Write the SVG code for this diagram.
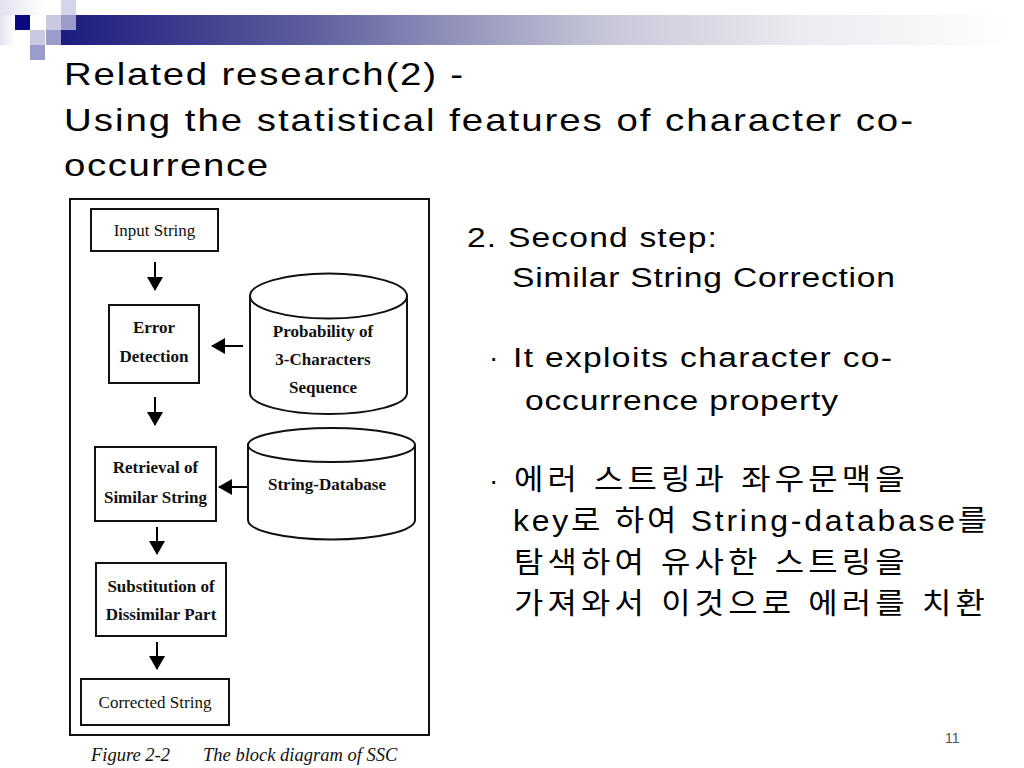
<svg xmlns="http://www.w3.org/2000/svg" width="1024" height="768" viewBox="0 0 1024 768">
<defs>
<linearGradient id="barGrad" x1="61" y1="0" x2="1012" y2="0" gradientUnits="userSpaceOnUse">
<stop offset="0" stop-color="#1c1c7e"/>
<stop offset="0.25" stop-color="#5a5a9c"/>
<stop offset="0.57" stop-color="#c6c6d8"/>
<stop offset="0.78" stop-color="#ebebf1"/>
<stop offset="1" stop-color="#ffffff"/>
</linearGradient>
<linearGradient id="fadeL" x1="0" y1="0" x2="1" y2="0">
<stop offset="0" stop-color="#e2e2f0"/>
<stop offset="1" stop-color="#ffffff"/>
</linearGradient>
<marker id="arr" viewBox="0 0 14 16" refX="13" refY="8" markerWidth="14" markerHeight="16" markerUnits="userSpaceOnUse" orient="auto">
<path d="M0,0 L14,8 L0,16 z" fill="#000"/>
</marker>
<style>
.box{fill:#fff;stroke:#111;stroke-width:2}
.cyl{fill:#fff;stroke:#111;stroke-width:2}
.lbl{font-family:"Liberation Serif","Times New Roman",serif;font-size:17px;font-weight:bold;text-anchor:middle;fill:#111}
.lblr{font-family:"Liberation Serif","Times New Roman",serif;font-size:17px;font-weight:normal;text-anchor:middle;fill:#111}
.conn{stroke:#000;stroke-width:2;fill:none;marker-end:url(#arr)}
.title{font-family:"Liberation Sans",Arial,sans-serif;font-size:32px;fill:#000}
.body{font-family:"Liberation Sans","Noto Sans CJK KR",sans-serif;font-size:28px;fill:#000}
.kr{font-family:"Liberation Sans","Noto Sans CJK KR",sans-serif;font-size:29px;fill:#000}
.cap{font-family:"Liberation Serif","Times New Roman",serif;font-size:18.5px;font-style:italic;fill:#111}
</style>
</defs>
<rect width="1024" height="768" fill="#fff"/>

<g id="header-decoration">
<rect x="0" y="0" width="45" height="15" fill="url(#fadeL)"/>
<rect x="0" y="15" width="15" height="30" fill="url(#fadeL)"/>
<rect x="61" y="15" width="951" height="30" fill="url(#barGrad)"/>
<rect x="15" y="15" width="15" height="15" fill="#0a0a80"/>
<rect x="46" y="15" width="15" height="15" fill="#c9c9e2"/>
<rect x="61" y="15" width="15" height="15" fill="#9c9ccc"/>
<rect x="61" y="0" width="15" height="15" fill="#d4d4ea"/>
<rect x="30" y="30" width="15" height="15" fill="#c9c9e2"/>
<rect x="46" y="30" width="15" height="15" fill="#9c9ccc"/>
<rect x="30" y="45" width="15" height="15" fill="#9c9ccc"/>
</g>

<g id="title">
<text class="title" transform="translate(64,85) scale(1.2,1)" textLength="332.5" lengthAdjust="spacing">Related research(2) -</text>
<text class="title" transform="translate(64,131) scale(1.2,1)" textLength="707.5" lengthAdjust="spacing">Using the statistical features of character co-</text>
<text class="title" transform="translate(64,176) scale(1.2,1)" textLength="170" lengthAdjust="spacing">occurrence</text>
</g>

<g id="figure">
<rect x="70" y="199" width="359" height="536" fill="none" stroke="#111" stroke-width="2"/>

<g id="connectors">
<line class="conn" x1="155" y1="262" x2="155" y2="290"/>
<line class="conn" x1="243" y1="346" x2="212" y2="346"/>
<line class="conn" x1="155" y1="397" x2="155" y2="425"/>
<line class="conn" x1="248" y1="487" x2="219" y2="487"/>
<line class="conn" x1="157" y1="527" x2="157" y2="554"/>
<line class="conn" x1="157" y1="642" x2="157" y2="669"/>
</g>

<g id="node-input">
<rect class="box" x="91" y="209" width="127" height="42"/>
<text class="lblr" x="154.5" y="236">Input String</text>
</g>

<g id="node-error">
<rect class="box" x="109" y="305" width="90" height="78"/>
<text class="lbl" x="154" y="333">Error</text>
<text class="lbl" x="154" y="362">Detection</text>
</g>

<g id="node-probability">
<path class="cyl" d="M250,296 L250,393 A78.5,21 0 0 0 407,393 L407,296"/>
<ellipse class="cyl" cx="328.5" cy="296" rx="78.5" ry="22.5"/>
<text class="lbl" x="323" y="337">Probability of</text>
<text class="lbl" x="323" y="365">3-Characters</text>
<text class="lbl" x="323" y="393">Sequence</text>
</g>

<g id="node-retrieval">
<rect class="box" x="95" y="447" width="121" height="74"/>
<text class="lbl" x="155.5" y="473">Retrieval of</text>
<text class="lbl" x="155.5" y="503">Similar String</text>
</g>

<g id="node-database">
<path class="cyl" d="M248,445 L248,520 A83.5,19.5 0 0 0 415,520 L415,445"/>
<ellipse class="cyl" cx="331.5" cy="445" rx="83.5" ry="17"/>
<text class="lbl" x="327" y="490">String-Database</text>
</g>

<g id="node-substitution">
<rect class="box" x="96" y="563" width="130" height="73"/>
<text class="lbl" x="161" y="592">Substitution of</text>
<text class="lbl" x="161" y="620">Dissimilar Part</text>
</g>

<g id="node-corrected">
<rect class="box" x="81" y="679" width="148" height="46"/>
<text class="lblr" x="155" y="708">Corrected String</text>
</g>

<text class="cap" x="91" y="761">Figure 2-2<tspan x="203">The block diagram of SSC</tspan></text>
</g>

<g id="body-text">
<text class="body" transform="translate(467,247) scale(1.2,1)" textLength="208.3" lengthAdjust="spacing">2. Second step:</text>
<text class="body" transform="translate(512,287) scale(1.2,1)" textLength="319.2" lengthAdjust="spacing">Similar String Correction</text>
<text class="body" x="489" y="367">·</text>
<text class="body" transform="translate(513,367) scale(1.2,1)" textLength="315.8" lengthAdjust="spacing">It exploits character co-</text>
<text class="body" transform="translate(525,410) scale(1.2,1)" textLength="260.8" lengthAdjust="spacing">occurrence property</text>
<text class="body" x="489" y="490">·</text>
<text class="kr" transform="translate(514,490) scale(1.1,1)" textLength="355" lengthAdjust="spacing">에러 스트링과 좌우문맥을</text>
<text class="kr" transform="translate(513,531) scale(1.1,1)" textLength="431" lengthAdjust="spacing">key로 하여 String-database를</text>
<text class="kr" transform="translate(514,573) scale(1.1,1)" textLength="355" lengthAdjust="spacing">탐색하여 유사한 스트링을</text>
<text class="kr" transform="translate(514,614) scale(1.1,1)" textLength="428" lengthAdjust="spacing">가져와서 이것으로 에러를 치환</text>
</g>

<text id="page-number" x="945" y="743" font-family="Liberation Sans, Arial, sans-serif" font-size="14" fill="#555">11</text>
</svg>
